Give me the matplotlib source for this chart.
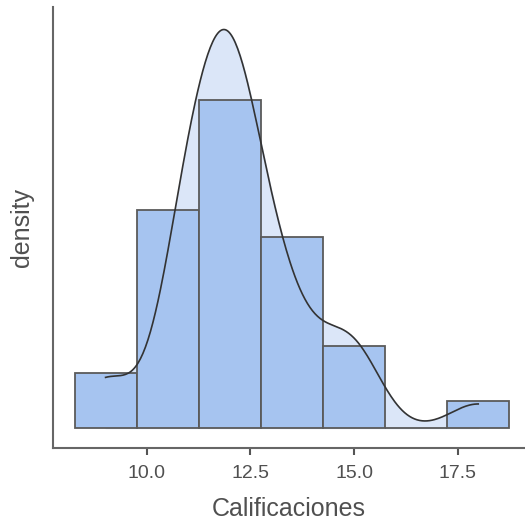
import numpy as np
import matplotlib
matplotlib.use("Agg")
import matplotlib.pyplot as plt

# grades and how many students got each one
grades = [9, 11, 12, 13, 14, 15, 18]
students = [2, 8, 12, 5, 2, 3, 1]
bin_edges = [8.25, 9.75, 11.25, 12.75, 14.25, 15.75, 17.25, 18.75]
xticks = [10.0, 12.5, 15.0, 17.5]

data = np.repeat(grades, students).astype(float)

plt.rcParams['font.family'] = ['Liberation Sans', 'DejaVu Sans']

fig = plt.figure(figsize=(5.25, 5.23), dpi=100)
ax = fig.add_axes([53/525, 75/523, 1 - 53/525, 441/523])

# gaussian kde, cut at data range
bw = 0.68
xs = np.linspace(data.min(), data.max(), 300)
dens = np.exp(-0.5 * ((xs[:, None] - data[None, :]) / bw) ** 2).sum(axis=1)
dens /= len(data) * bw * np.sqrt(2 * np.pi)

ax.fill_between(xs, 0, dens, color='#dbe6f8', zorder=1)
ax.hist(data, bins=bin_edges, density=True, color='#a6c4f0',
        edgecolor='#5a5a5a', linewidth=1.3, zorder=2)
ax.plot(xs, dens, color='#333333', linewidth=1.2, zorder=3)

ax.set_xlim(7.73, 19.13)
ax.set_ylim(-0.0148, 0.3115)
ax.set_xticks(xticks)
ax.set_xticklabels([f"{t:.1f}" for t in xticks])
ax.set_yticks([])
ax.set_xlabel("Calificaciones", fontsize=18, color='#505050', labelpad=11)
ax.set_ylabel("density", fontsize=18, color='#505050', labelpad=14)
ax.tick_params(axis='x', labelsize=14, colors='#555555', labelcolor='#505050',
               length=5, width=1.5, pad=7)
for s in ['top', 'right']:
    ax.spines[s].set_visible(False)
for s in ['left', 'bottom']:
    ax.spines[s].set_color('#666666')
    ax.spines[s].set_linewidth(1.5)

fig.savefig("out.png", dpi=100)
